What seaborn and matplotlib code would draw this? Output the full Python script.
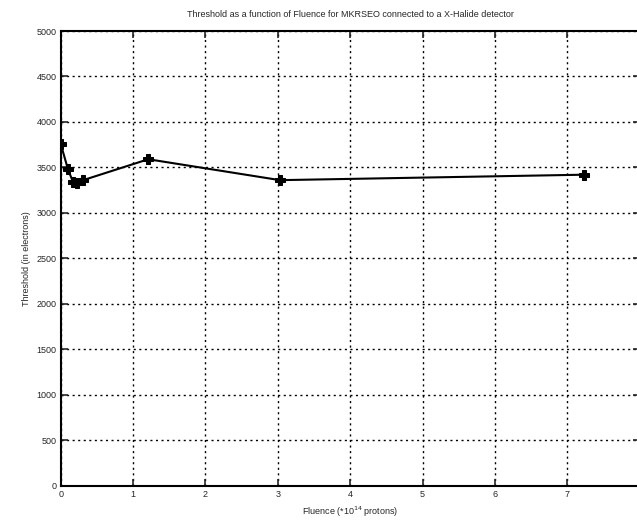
import matplotlib
matplotlib.use("Agg")
import matplotlib.pyplot as plt
import seaborn as sns
import pandas as pd

fluence = [0.0, 0.10, 0.17, 0.23, 0.31, 1.21, 3.03, 7.23]
threshold = [3760, 3480, 3340, 3330, 3360, 3590, 3360, 3420]
xticks = [0, 1, 2, 3, 4, 5, 6, 7, 8]
yticks = [0, 500, 1000, 1500, 2000, 2500, 3000, 3500, 4000, 4500, 5000]

sns.set_style("ticks")
plt.rcParams['font.family'] = ['Liberation Sans', 'DejaVu Sans']

df = pd.DataFrame({"fluence": fluence, "threshold": threshold})

fig = plt.figure(figsize=(6.37, 5.25), dpi=100)
ax = fig.add_axes([0.0953, 0.0749, 0.909, 0.866])

sns.lineplot(data=df, x="fluence", y="threshold", sort=False, color="black",
             linewidth=1.5, marker="P", markersize=7, markeredgecolor="black",
             markerfacecolor="black", ax=ax)

ax.set_xlim(0, 8)
ax.set_ylim(0, 5000)
ax.set_xticks(xticks)
ax.set_yticks(yticks)
ax.set_xticklabels([str(t) for t in xticks], fontsize=6.5)
ax.set_yticklabels([str(t) for t in yticks], fontsize=6.5)
ax.grid(True, linestyle=(0, (1.5, 2.5)), color="black", linewidth=1.0)
ax.tick_params(direction="in", top=True, right=True, length=5, width=1.2, pad=3)
for s in ax.spines.values():
    s.set_visible(True)
    s.set_linewidth(1.5)
    s.set_color("black")

ax.set_xlabel(r"Fluence (*10$^{14}$ protons)", fontsize=6.5, labelpad=4)
ax.set_ylabel("Threshold (in electrons)", fontsize=6.5, labelpad=4)
ax.set_title("Threshold as a function of Fluence for MKRSEO connected to a X-Halide detector",
             fontsize=6.5, pad=10)

fig.savefig("out.png", dpi=100)
